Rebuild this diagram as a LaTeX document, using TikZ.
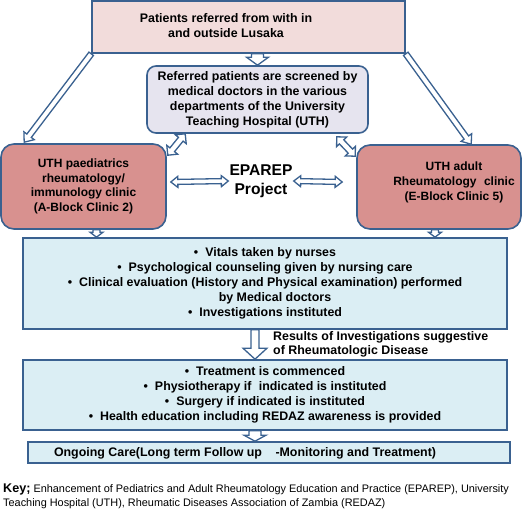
\documentclass[tikz,border=0pt]{standalone}
\usepackage{fontspec}
\setmainfont{Liberation Sans}
\usetikzlibrary{calc}
\definecolor{bord}{HTML}{3A6190}
\definecolor{pinkfill}{HTML}{F2DCDB}
\definecolor{lavfill}{HTML}{E6E4EF}
\definecolor{rosefill}{HTML}{D8918F}
\definecolor{bluefill}{HTML}{DBEEF4}
\newcommand\bul{\textbullet\hspace{7pt}}
% single block arrow: [opts]{from}{to}{shaft half width}{head half width}{head length}
\newcommand\blockarr[6][]{%
\draw[barr,#1] let \p1=(#2), \p2=(#3), \n1={atan2(\y2-\y1,\x2-\x1)}, \n2={veclen(\x2-\x1,\y2-\y1)} in
 ($(\p1)+(\n1+90:#4)$) -- ($(\p1)+(\n1:{\n2-#6})+(\n1+90:#4)$) -- ($(\p1)+(\n1:{\n2-#6})+(\n1+90:#5)$) -- (\p2)
 -- ($(\p1)+(\n1:{\n2-#6})+(\n1-90:#5)$) -- ($(\p1)+(\n1:{\n2-#6})+(\n1-90:#4)$) -- ($(\p1)+(\n1-90:#4)$) -- cycle;}
% double-headed block arrow
\newcommand\dblockarr[6][]{%
\draw[barr,#1] let \p1=(#2), \p2=(#3), \n1={atan2(\y2-\y1,\x2-\x1)}, \n2={veclen(\x2-\x1,\y2-\y1)} in
 (\p1) -- ($(\p1)+(\n1:#6)+(\n1+90:#5)$) -- ($(\p1)+(\n1:#6)+(\n1+90:#4)$) -- ($(\p1)+(\n1:{\n2-#6})+(\n1+90:#4)$)
 -- ($(\p1)+(\n1:{\n2-#6})+(\n1+90:#5)$) -- (\p2) -- ($(\p1)+(\n1:{\n2-#6})+(\n1-90:#5)$) -- ($(\p1)+(\n1:{\n2-#6})+(\n1-90:#4)$)
 -- ($(\p1)+(\n1:#6)+(\n1-90:#4)$) -- ($(\p1)+(\n1:#6)+(\n1-90:#5)$) -- cycle;}
\begin{document}
\begin{tikzpicture}[x=1pt,y=-1pt,
  box/.style={draw=bord, line width=1.6pt, inner sep=0pt, align=center,
    font=\fontsize{12.4}{15}\selectfont\bfseries},
  txt/.style={inner sep=0pt, align=center, font=\fontsize{12.4}{15}\selectfont\bfseries},
  barr/.style={draw=bord, fill=white, line width=1.3pt, line join=miter}]
\useasboundingbox (0,0) rectangle (522,509);
% boxes
\node[box, fill=pinkfill, minimum width=313pt, minimum height=52pt] (top) at (248.5,27) {};
\node[txt] (toptext) at (226,25.5) {Patients referred from with in\\and outside Lusaka};
\node[box, fill=lavfill, rounded corners=9pt, minimum width=221pt, minimum height=67pt] (mid) at (257.5,99.5)
  {Referred patients are screened by\\medical doctors in the various\\departments of the University\\Teaching Hospital (UTH)};
\node[box, fill=rosefill, rounded corners=13pt, minimum width=165pt, minimum height=85pt,
  font=\fontsize{12}{14.7}\selectfont\bfseries] (left) at (83.5,186.5)
  {UTH paediatrics\\rheumatology/\\immunology clinic\\(A-Block Clinic 2)};
\node[box, fill=rosefill, rounded corners=13pt, minimum width=164pt, minimum height=84pt] (right) at (439,187) {};
\node[txt, font=\fontsize{12}{15}\selectfont\bfseries] (righttext) at (454,182)
  {UTH adult\\Rheumatology\hspace{4pt} clinic\\(E-Block Clinic 5)};
\node[txt, font=\fontsize{15.6}{18.5}\selectfont\bfseries] (ep) at (261,181) {EPAREP\\Project};
\node[box, fill=bluefill, minimum width=484pt, minimum height=91pt] (b1) at (265,283.5)
  {\bul Vitals taken by nurses\\
   \bul Psychological counseling given by nursing care\\
   \bul Clinical evaluation (History and Physical examination) performed\\
   \hspace*{20pt}by Medical doctors\\
   \bul Investigations instituted};
\node[box, fill=bluefill, minimum width=484pt, minimum height=70pt] (b2) at (265,395)
  {\bul Treatment is commenced\\
   \bul Physiotherapy if\hspace{4pt} indicated is instituted\\
   \bul Surgery if indicated is instituted\\
   \bul Health education including REDAZ awareness is provided};
\node[box, fill=bluefill, minimum width=482pt, minimum height=21pt] (fin) at (269,452.5) {};
\node[txt] (fintext) at (245,453) {Ongoing Care(Long term Follow up\hspace{10pt} -Monitoring and Treatment)};
\node[txt, align=left, anchor=west, font=\fontsize{12.4}{14}\selectfont\bfseries] (res) at (273,344.5)
  {Results of Investigations suggestive\\of Rheumatologic Disease};
% key
\node[inner sep=0pt, anchor=base west, font=\fontsize{10.9}{14}\selectfont] (key1) at (3,492)
  {{\fontsize{12.6}{14}\selectfont\bfseries Key;} Enhancement of Pediatrics and Adult Rheumatology Education and Practice (EPAREP), University};
\node[inner sep=0pt, anchor=base west, font=\fontsize{10.9}{14}\selectfont] (key2) at (3,506)
  {Teaching Hospital (UTH), Rheumatic Diseases Association of Zambia (REDAZ)};
% arrows
\blockarr{mid.north |- top.south}{mid.north}{6pt}{11pt}{8pt}
\blockarr{top.south west}{[xshift=24pt,yshift=1pt]left.north west}{2.8pt}{6.5pt}{8pt}
\blockarr{top.south east}{[xshift=115pt]right.north west}{2.8pt}{6.5pt}{8pt}
\dblockarr{[xshift=39pt]mid.south west}{[xshift=1pt,yshift=-12pt]left.north east}{3pt}{7pt}{7pt}
\dblockarr{[xshift=-32pt,yshift=-3pt]mid.south east}{[xshift=-1pt,yshift=-12pt]right.north west}{3pt}{7pt}{7pt}
\dblockarr{[xshift=4pt,yshift=4.5pt]left.east}{[xshift=-1pt]ep.west}{2.5pt}{5.5pt}{7pt}
\dblockarr{[xshift=1pt]ep.east}{[xshift=-14pt,yshift=5pt]right.west}{2.5pt}{5.5pt}{7pt}
\blockarr{[xshift=13pt]left.south}{[xshift=13pt]left.south |- b1.north}{3.5pt}{6.5pt}{5pt}
\blockarr{[xshift=-4pt]right.south}{[xshift=-4pt]right.south |- b1.north}{3.5pt}{6.5pt}{5pt}
\blockarr{[xshift=-10pt]b1.south}{[xshift=-10pt]b2.north}{4pt}{12pt}{11pt}
\blockarr{[xshift=-10pt]b2.south}{[xshift=-10pt]b2.south |- fin.north}{6pt}{11pt}{6pt}
\end{tikzpicture}
\end{document}
